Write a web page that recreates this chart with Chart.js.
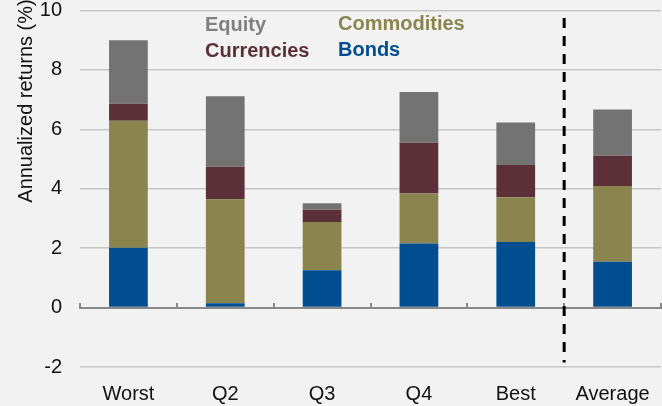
<!DOCTYPE html>
<html>
<head>
<meta charset="utf-8">
<script src="https://cdn.jsdelivr.net/npm/chart.js@4"></script>
<style>
  html, body { margin: 0; padding: 0; background: #f2f2f2; }
  canvas { display: block; }
</style>
</head>
<body>
<canvas id="chart" width="662" height="406"></canvas>
<script>
// ------------------------
// DATA
// ------------------------
const categories = ["Worst", "Q2", "Q3", "Q4", "Best", "Average"];

const bonds       = [2.01, 0.15, 1.26, 2.16, 2.21, 1.54];
const commodities = [4.28, 3.50, 1.62, 1.68, 1.50, 2.55];
const currencies  = [0.57, 1.09, 0.41, 1.71, 1.09, 1.02];
const equity      = [2.14, 2.37, 0.22, 1.71, 1.43, 1.56];

const yTicks = [-2, 0, 2, 4, 6, 8, 10];

// the dashed divider sits between these two categories
const dividerBetween = ["Best", "Average"];

const FONT = "'Liberation Sans', Arial, Helvetica, sans-serif";

// ------------------------
// PLUGINS
// ------------------------
const yTitle = {
  id: "yTitle",
  afterDraw(chart) {
    const ctx = chart.ctx;
    ctx.save();
    ctx.translate(26, 101);
    ctx.rotate(-Math.PI / 2);
    ctx.font = "20px " + FONT;
    ctx.fillStyle = "#111";
    ctx.textAlign = "center";
    ctx.textBaseline = "middle";
    ctx.fillText("Annualized returns (%)", 0, 0);
    ctx.restore();
  }
};

// text-only legend in two columns, coloured like the series
const textLegend = {
  id: "textLegend",
  afterDraw(chart) {
    const ctx = chart.ctx;
    const spots = {
      "Equity":      [205, 25],
      "Currencies":  [205, 51],
      "Commodities": [338, 24],
      "Bonds":       [338, 50]
    };
    ctx.save();
    ctx.font = "bold 20px " + FONT;
    ctx.textBaseline = "middle";
    chart.data.datasets.forEach(ds => {
      const p = spots[ds.label];
      ctx.fillStyle = ds.legendColor || ds.backgroundColor;
      ctx.fillText(ds.label, p[0], p[1]);
    });
    ctx.restore();
  }
};

const divider = {
  id: "divider",
  afterDatasetsDraw(chart) {
    const x = chart.scales.x;
    const y = chart.scales.y;
    const a = x.getPixelForValue(categories.indexOf(dividerBetween[0]));
    const b = x.getPixelForValue(categories.indexOf(dividerBetween[1]));
    const px = (a + b) / 2;
    const ctx = chart.ctx;
    ctx.save();
    ctx.strokeStyle = "#000";
    ctx.lineWidth = 3;
    ctx.setLineDash([10, 8]);
    ctx.beginPath();
    ctx.moveTo(px, y.getPixelForValue(9.75));
    ctx.lineTo(px, y.getPixelForValue(-1.85));
    ctx.stroke();
    ctx.restore();
  }
};

// ------------------------
// CHART
// ------------------------
const ctx = document.getElementById("chart").getContext("2d");

const barStyle = {
  borderWidth: 0,
  barPercentage: 0.4,
  categoryPercentage: 1
};

new Chart(ctx, {
  type: "bar",
  data: {
    labels: categories,
    datasets: [
      { label: "Bonds", data: bonds, backgroundColor: "#004d8f", ...barStyle },
      { label: "Commodities", data: commodities, backgroundColor: "#8a854f", ...barStyle },
      { label: "Currencies", data: currencies, backgroundColor: "#5c3038", ...barStyle },
      { label: "Equity", data: equity, backgroundColor: "#737373", legendColor: "#808080", ...barStyle }
    ]
  },
  options: {
    responsive: false,
    animation: false,
    layout: { padding: { top: 0, right: 1, bottom: 0, left: 0 } },
    plugins: {
      legend: { display: false },
      tooltip: { enabled: false }
    },
    scales: {
      x: {
        stacked: true,
        offset: true,
        grid: { display: false, offset: true },
        border: { display: false },
        ticks: {
          padding: 7,
          color: "#111",
          font: { family: FONT, size: 20 }
        },
        afterFit: s => { s.height = 39; }
      },
      // zero line with tick marks hanging below it
      xZero: {
        type: "category",
        position: { y: 0 },
        offset: true,
        grid: {
          offset: true,
          drawOnChartArea: false,
          drawTicks: true,
          tickLength: -6,
          color: "#888",
          lineWidth: 2
        },
        border: { display: true, color: "#888", width: 2 },
        ticks: { display: false },
        afterFit: s => { s.height = 0; s.paddingLeft = 0; s.paddingRight = 0; }
      },
      y: {
        stacked: true,
        min: -2,
        max: 10,
        afterBuildTicks: s => { s.ticks = yTicks.map(v => ({ value: v })); },
        grid: { color: "#c6c6c6", lineWidth: 1.5, drawTicks: false },
        border: { display: false },
        ticks: {
          padding: 18,
          color: "#111",
          font: { family: FONT, size: 20 }
        },
        afterFit: s => { s.width = 80; s.paddingTop = 10.5; s.paddingBottom = 0; }
      }
    }
  },
  plugins: [yTitle, textLegend, divider]
});
</script>
</body>
</html>
